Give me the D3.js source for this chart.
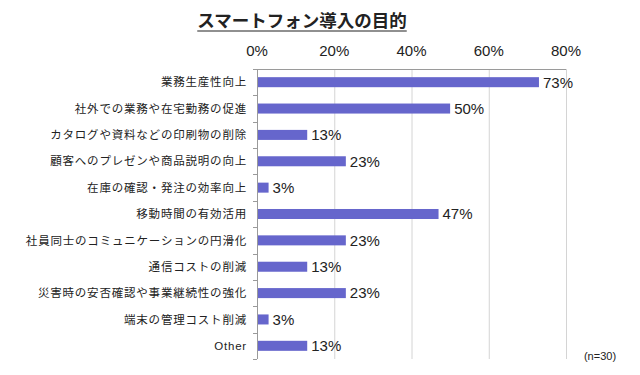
<!DOCTYPE html>
<html>
<head>
<meta charset="utf-8">
<script src="https://cdn.jsdelivr.net/npm/d3@7"></script>
<style>
body { margin: 0; background: #fff; }
text { font-family: "Liberation Sans", "Noto Sans CJK JP", sans-serif; }
</style>
</head>
<body>
<script>
// survey data (n=30)
var categories = [
  "業務生産性向上",
  "社外での業務や在宅勤務の促進",
  "カタログや資料などの印刷物の削除",
  "顧客へのプレゼンや商品説明の向上",
  "在庫の確認・発注の効率向上",
  "移動時間の有効活用",
  "社員同士のコミュニケーションの円滑化",
  "通信コストの削減",
  "災害時の安否確認や事業継続性の強化",
  "端末の管理コスト削減",
  "Other"
];
var values = [73, 50, 13, 23, 3, 47, 23, 13, 23, 3, 13];
var ticks = [0, 20, 40, 60, 80];
var title = "スマートフォン導入の目的";
var note = "(n=30)";

var w = 640, h = 375;
var plotL = 257, plotR = 566, plotT = 69, plotB = 359;

var svg = d3.select("body").append("svg")
  .attr("width", w)
  .attr("height", h);

var x = d3.scaleLinear().domain([0, 80]).range([plotL, plotR]);
var y = d3.scaleBand().domain(categories).range([plotT, plotB]).paddingInner(0.62).paddingOuter(0.31);

// gridlines
svg.append("g")
  .selectAll("line")
  .data(ticks)
  .join("line")
  .attr("x1", d => x(d) + 0.5).attr("x2", d => x(d) + 0.5)
  .attr("y1", plotT).attr("y2", plotB)
  .attr("stroke", "#d4d4d4")
  .attr("stroke-width", 1);

// top axis line
svg.append("line")
  .attr("x1", plotL - 4).attr("x2", plotR)
  .attr("y1", plotT + 0.5).attr("y2", plotT + 0.5)
  .attr("stroke", "#9a9a9a");

// left axis with small ticks between categories
svg.append("line")
  .attr("x1", plotL + 0.5).attr("x2", plotL + 0.5)
  .attr("y1", plotT).attr("y2", plotB)
  .attr("stroke", "#9a9a9a");
svg.append("g")
  .selectAll("line")
  .data(d3.range(categories.length + 1))
  .join("line")
  .attr("x1", plotL - 4).attr("x2", plotL)
  .attr("y1", i => Math.round(plotT + i * (plotB - plotT) / categories.length) + 0.5)
  .attr("y2", i => Math.round(plotT + i * (plotB - plotT) / categories.length) + 0.5)
  .attr("stroke", "#9a9a9a");

// tick labels
svg.append("g")
  .selectAll("text")
  .data(ticks)
  .join("text")
  .attr("x", d => x(d))
  .attr("y", 56)
  .attr("text-anchor", "middle")
  .attr("font-size", 15)
  .attr("fill", "#222")
  .text(d => d + "%");

// bars
svg.append("g")
  .selectAll("rect")
  .data(values)
  .join("rect")
  .attr("x", x(0) + 1)
  .attr("y", (d, i) => y(categories[i]))
  .attr("width", d => x(d) - x(0) - 1)
  .attr("height", y.bandwidth())
  .attr("fill", "#6666cc");

// value labels
svg.append("g")
  .selectAll("text")
  .data(values)
  .join("text")
  .attr("x", d => x(d) + 4)
  .attr("y", (d, i) => y(categories[i]) + y.bandwidth() / 2)
  .attr("dy", "0.36em")
  .attr("font-size", 15)
  .attr("fill", "#222")
  .text(d => d + "%");

// category labels
svg.append("g")
  .selectAll("text")
  .data(categories)
  .join("text")
  .attr("x", 247)
  .attr("y", d => y(d) + y.bandwidth() / 2)
  .attr("dy", "0.36em")
  .attr("text-anchor", "end")
  .attr("font-size", 11.5)
  .attr("letter-spacing", 0.8)
  .attr("fill", "#222")
  .text(d => d);

// title
var t = svg.append("text")
  .attr("x", 302)
  .attr("y", 27)
  .attr("text-anchor", "middle")
  .attr("font-size", 17.5)
  .attr("font-weight", "bold")
  .attr("fill", "#222")
  .text(title);
var bb = t.node().getBBox();
svg.append("line")
  .attr("x1", bb.x).attr("x2", bb.x + bb.width)
  .attr("y1", 31).attr("y2", 31)
  .attr("stroke", "#222")
  .attr("stroke-width", 1.2);

// sample size
svg.append("text")
  .attr("x", 600)
  .attr("y", 360)
  .attr("text-anchor", "middle")
  .attr("font-size", 11)
  .attr("fill", "#222")
  .text(note);
</script>
</body>
</html>
